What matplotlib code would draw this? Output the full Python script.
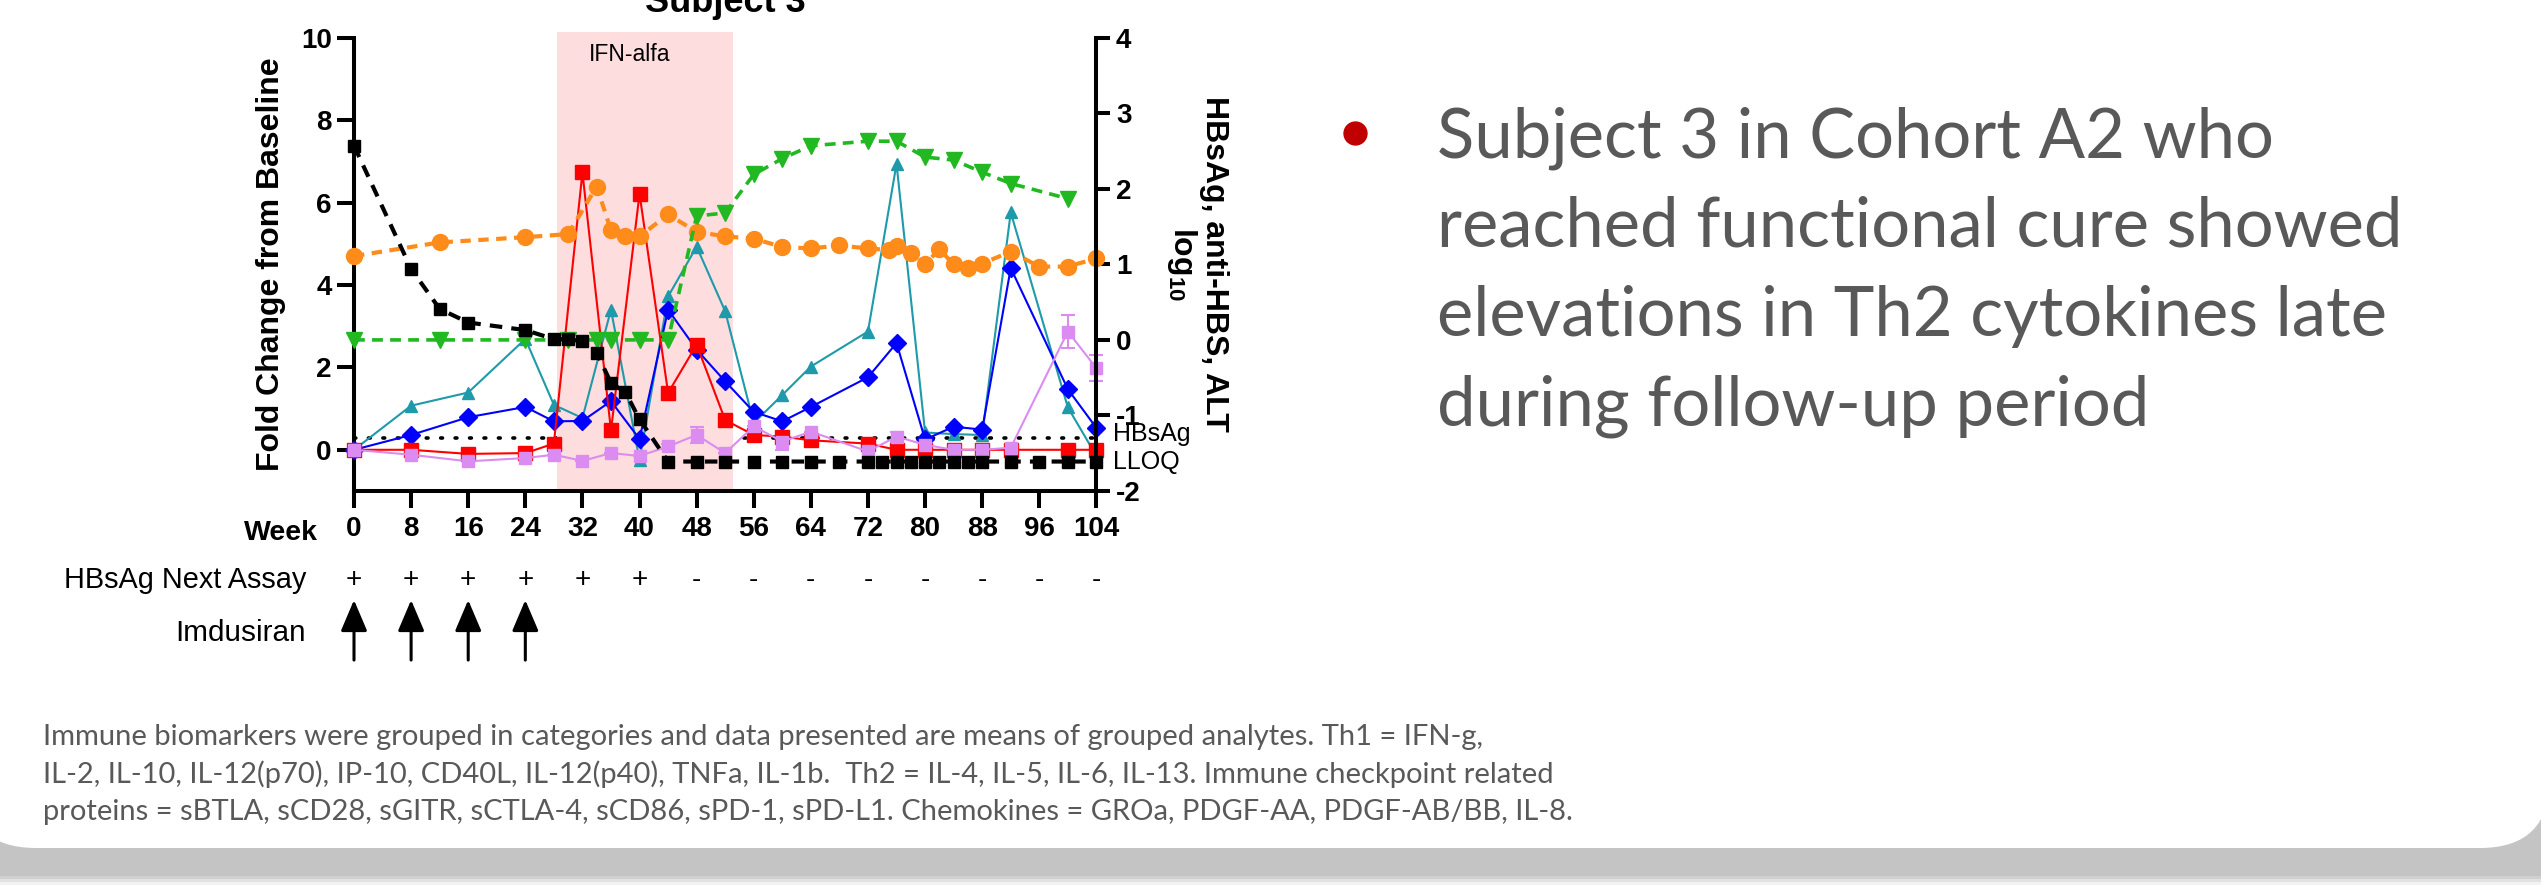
import matplotlib
matplotlib.use("Agg")
import matplotlib.pyplot as plt
from matplotlib.patches import FancyBboxPatch
from matplotlib.transforms import blended_transform_factory

plt.rcParams["font.family"] = "Liberation Sans"
plt.rcParams["axes.unicode_minus"] = False
plt.rcParams["mathtext.fontset"] = "custom"
plt.rcParams["mathtext.rm"] = "Liberation Sans:bold"
plt.rcParams["mathtext.it"] = "Liberation Sans:bold"
plt.rcParams["mathtext.bf"] = "Liberation Sans:bold"

# fold change from baseline (left axis), grouped immune biomarkers
cyto_weeks = [0, 8, 16, 24, 28, 32, 36, 40, 44, 48, 52, 56, 60, 64, 72, 76, 80, 84, 88, 92, 100, 104]
teal_vals = [0, 1.07, 1.39, 2.69, 1.09, 0.77, 3.40, -0.25, 3.72, 4.93, 3.36, 0.65, 1.33, 2.02, 2.87, 6.94, 0.42, 0.38, 0.36, 5.76, 1.03, -0.15]
blue_vals = [0, 0.36, 0.79, 1.04, 0.69, 0.70, 1.18, 0.26, 3.40, 2.43, 1.66, 0.92, 0.69, 1.04, 1.76, 2.59, 0.25, 0.56, 0.49, 4.41, 1.47, 0.53]
red_vals = [0, 0, -0.10, -0.08, 0.15, 6.73, 0.47, 6.21, 1.38, 2.55, 0.72, 0.36, 0.32, 0.23, 0.15, 0.0, 0.0, 0.0, 0.0, 0.0, 0.0, 0.0]
violet_vals = [0, -0.12, -0.28, -0.20, -0.12, -0.27, -0.08, -0.15, 0.08, 0.36, -0.08, 0.57, 0.20, 0.44, -0.04, 0.32, 0.12, 0.0, 0.0, 0.05, 2.87, 1.98]
violet_err = [0, 0, 0, 0, 0, 0, 0, 0, 0.05, 0.2, 0, 0, 0.2, 0, 0, 0.12, 0, 0, 0, 0, 0.40, 0.32]

# log10 values (right axis)
hbsag_weeks = [0, 8, 12, 16, 24, 28, 30, 32, 34, 36, 38, 40, 44, 48, 52, 56, 60, 64, 68, 72, 74, 76, 78, 80, 82, 84, 86, 88, 92, 96, 100, 104]
hbsag_log = [2.57, 0.94, 0.41, 0.23, 0.13, 0.01, 0.01, -0.02, -0.17, -0.57, -0.69, -1.05,
             -1.61, -1.61, -1.61, -1.61, -1.61, -1.61, -1.61, -1.61, -1.61, -1.61, -1.61, -1.61,
             -1.61, -1.61, -1.61, -1.61, -1.61, -1.61, -1.61, -1.61]
alt_weeks = [0, 12, 24, 30, 34, 36, 38, 40, 44, 48, 52, 56, 60, 64, 68, 72, 75, 76, 78, 80, 82, 84, 86, 88, 92, 96, 100, 104]
alt_log = [1.11, 1.29, 1.36, 1.40, 2.03, 1.45, 1.37, 1.37, 1.66, 1.43, 1.37, 1.34, 1.23, 1.21, 1.25, 1.21,
           1.19, 1.24, 1.15, 1.00, 1.20, 1.00, 0.95, 1.01, 1.17, 0.97, 0.97, 1.08]
antihbs_weeks = [0, 12, 24, 30, 34, 36, 40, 44, 48, 52, 56, 60, 64, 72, 76, 80, 84, 88, 92, 100]
antihbs_log = [0, 0, 0, 0, 0, 0, 0, 0, 1.64, 1.68, 2.19, 2.40, 2.57, 2.63, 2.63, 2.42, 2.38, 2.22, 2.07, 1.87]
hbsag_lloq = -1.3

week_ticks = list(range(0, 105, 8))
assay_result = ["+", "+", "+", "+", "+", "+", "-", "-", "-", "-", "-", "-", "-", "-"]
dose_weeks = [0, 8, 16, 24]
ifn_start, ifn_end = 28.4, 53.1

bullet_lines = ["Subject 3 in Cohort A2 who", "reached functional cure showed",
                "elevations in Th2 cytokines late", "during follow-up period"]
footnote_lines = [
    "Immune biomarkers were grouped in categories and data presented are means of grouped analytes. Th1 = IFN-g,",
    "IL-2, IL-10, IL-12(p70), IP-10, CD40L, IL-12(p40), TNFa, IL-1b.  Th2 = IL-4, IL-5, IL-6, IL-13. Immune checkpoint related",
    "proteins = sBTLA, sCD28, sGITR, sCTLA-4, sCD86, sPD-1, sPD-L1. Chemokines = GROa, PDGF-AA, PDGF-AB/BB, IL-8.",
]

fig = plt.figure(figsize=(25.41, 8.85), dpi=100)

# slide card with shadow, in pixel units
bg = fig.add_axes([0, 0, 1, 1], zorder=-5)
bg.set_xlim(0, 2541)
bg.set_ylim(885, 0)
bg.axis("off")
for off, a in [(9, 0.2), (6, 0.35), (3, 0.6), (0, 1.0)]:
    bg.add_patch(FancyBboxPatch((-80 - off, -100), 2700 + 2 * off, 976 + off,
                                boxstyle="round,pad=0,rounding_size=70",
                                fc="#c4c4c4", ec="none", alpha=a))
bg.add_patch(FancyBboxPatch((-34, -100), 2584, 948, boxstyle="round,pad=0,rounding_size=70",
                            fc="white", ec="none"))

bg.plot(1355, 133, "o", color="#c00000", ms=16.5)
for i, line in enumerate(bullet_lines):
    bg.text(1437, 157 + i * 89.5, line, fontsize=49.5, family="Lato", color="#595959", va="baseline")
for i, line in enumerate(footnote_lines):
    bg.text(43, 745 + i * 37.6, line, fontsize=21, family="Lato", color="#595959", va="baseline")

# chart
ax = fig.add_axes([354 / 2541, (885 - 491) / 885, 742.4 / 2541, 453.3 / 885])
ax2 = ax.twinx()
ax.patch.set_alpha(0)

ax.axvspan(ifn_start, ifn_end, ymin=0, ymax=1.013, color="#fdddde", lw=0, zorder=1, clip_on=False)
lloq_trans = blended_transform_factory(ax.transData, ax2.transData)
ax.plot([0, 104], [hbsag_lloq, hbsag_lloq], color="black", lw=2.6, ls=(0, (0.5, 3.5)),
        dash_capstyle="round", transform=lloq_trans, zorder=0.5)

ax.errorbar(cyto_weeks, violet_vals, yerr=violet_err, color="#da8cf0", marker="s", ms=8.5,
            lw=1.5, capsize=5, elinewidth=1.5, capthick=1.5, zorder=3, clip_on=False)
ax.plot(cyto_weeks, teal_vals, color="#1e9aaa", marker="^", ms=9, lw=1.5, zorder=3, clip_on=False)
ax.plot(cyto_weeks, blue_vals, color="#0000ff", marker="D", ms=9, lw=1.5, zorder=3, clip_on=False)
ax.plot(cyto_weeks, red_vals, color="#ff0000", marker="s", ms=9.5, lw=1.5, zorder=3, clip_on=False)

ax2.plot(alt_weeks, alt_log, color="#ff8c1a", marker="o", ms=11.5, lw=3, ls=(0, (2.5, 1.8)), clip_on=False)
ax2.plot(antihbs_weeks, antihbs_log, color="#22b822", marker="v", ms=11.5, lw=2.6, ls=(0, (3, 2)), clip_on=False)
ax2.plot(hbsag_weeks, hbsag_log, color="black", marker="s", ms=8.5, lw=3, ls=(0, (3, 2.2)), clip_on=False)

ax.set_xlim(0, 104)
ax.set_ylim(-1, 10)
ax2.set_ylim(-2, 4)

ax.set_xticks(week_ticks, labels=[str(w) for w in week_ticks], fontweight="bold")
ax.set_yticks([0, 2, 4, 6, 8, 10], labels=["0", "2", "4", "6", "8", "10"], fontweight="bold")
ax2.set_yticks(range(-2, 5), labels=[str(v) for v in range(-2, 5)], fontweight="bold")

for a in (ax, ax2):
    a.spines["top"].set_visible(False)
    for s in a.spines.values():
        s.set_linewidth(2.9)
ax.spines["right"].set_visible(False)
ax2.spines["left"].set_visible(False)
ax2.spines["bottom"].set_visible(False)
ax.tick_params(axis="both", width=2.9, length=12, labelsize=20)
ax.tick_params(axis="x", pad=6)
ax.tick_params(axis="y", pad=4)
ax2.tick_params(axis="y", width=2.9, length=10, labelsize=20, pad=4)

ax.text(-0.112, 0.5, "Fold Change from Baseline", rotation=90, ha="center", va="center",
        fontsize=23, fontweight="bold", transform=ax.transAxes)
ax2.text(1.135, 0.5, "HBsAg, anti-HBS, ALT\nlog$_{10}$", rotation=270, ha="center", va="center",
         multialignment="center", fontsize=23, fontweight="bold", linespacing=1.0, transform=ax.transAxes)
ax.text(0.5, 1.0574, "Subject 3", ha="center", va="baseline", fontsize=26, fontweight="bold",
        transform=ax.transAxes)
ax.text(38.6, 9.6, "IFN-alfa", ha="center", va="center", fontsize=16.5, zorder=4)
ax2.text(106.3, -1.24, "HBsAg", ha="left", va="center", fontsize=18, clip_on=False)
ax2.text(106.3, -1.62, "LLOQ", ha="left", va="center", fontsize=18, clip_on=False)

# rows under the x axis
xt = ax.get_xaxis_transform()
ax.text(-0.049, -0.0927, "Week", ha="right", va="center", fontsize=20.5, fontweight="bold", transform=ax.transAxes)
ax.text(-0.0647, -0.196, "HBsAg Next Assay", ha="right", va="center", fontsize=20.8, transform=ax.transAxes)
ax.text(-0.0647, -0.313, "Imdusiran", ha="right", va="center", fontsize=21.4, transform=ax.transAxes)
for w, r in zip(week_ticks, assay_result):
    ax.text(w, -0.196, r, ha="center", va="center", fontsize=20, transform=xt)
for w in dose_weeks:
    ax.annotate("", xy=(w, -0.2405), xytext=(w, -0.373), xycoords=xt, textcoords=xt,
                arrowprops=dict(arrowstyle="-|>,head_length=0.4,head_width=0.17", color="black",
                                lw=2.2, mutation_scale=48, shrinkA=0, shrinkB=0))

fig.savefig("out.png", dpi=100, facecolor="white")
